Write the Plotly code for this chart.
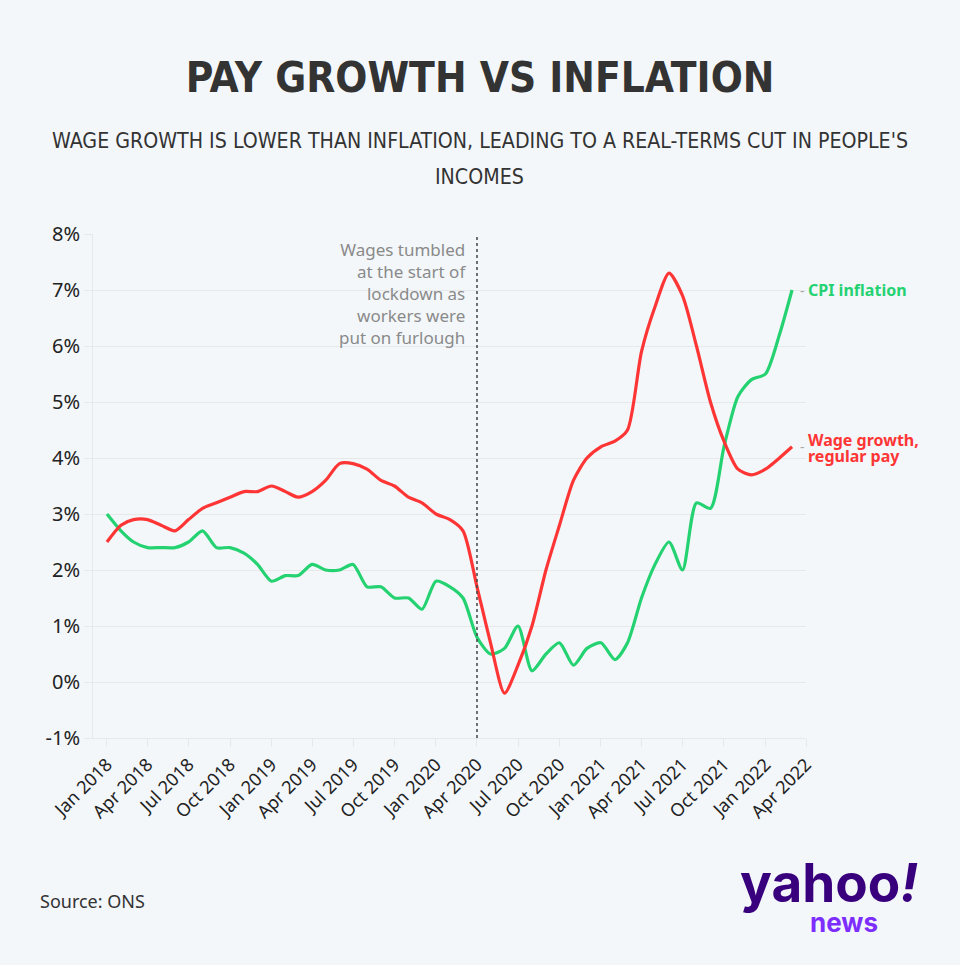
import plotly.graph_objects as go
import pandas as pd

months = pd.date_range("2018-01-01", "2022-03-01", freq="MS")

wage_growth = [2.5, 2.8, 2.9, 2.9, 2.8, 2.7, 2.9, 3.1, 3.2, 3.3, 3.4, 3.4,
               3.5, 3.4, 3.3, 3.4, 3.6, 3.9, 3.9, 3.8, 3.6, 3.5, 3.3, 3.2,
               3.0, 2.9, 2.7, 1.7, 0.7, -0.2, 0.3, 1.0, 2.0, 2.8, 3.6, 4.0,
               4.2, 4.3, 4.5, 5.9, 6.7, 7.3, 6.9, 6.0, 5.0, 4.3, 3.8, 3.7,
               3.8, 4.0, 4.2]

cpi = [3.0, 2.7, 2.5, 2.4, 2.4, 2.4, 2.5, 2.7, 2.4, 2.4, 2.3, 2.1,
       1.8, 1.9, 1.9, 2.1, 2.0, 2.0, 2.1, 1.7, 1.7, 1.5, 1.5, 1.3,
       1.8, 1.7, 1.5, 0.8, 0.5, 0.6, 1.0, 0.2, 0.5, 0.7, 0.3, 0.6,
       0.7, 0.4, 0.7, 1.5, 2.1, 2.5, 2.0, 3.2, 3.1, 4.2, 5.1, 5.4,
       5.5, 6.2, 7.0]

y_ticks = [-1, 0, 1, 2, 3, 4, 5, 6, 7, 8]
y_tick_labels = ["-1%", "0%", "1%", "2%", "3%", "4%", "5%", "6%", "7%", "8%"]

lockdown_date = "2020-04-01"

RED = "#fe3535"
GREEN = "#25d271"
BG = "#f3f7fa"
GRID = "#e6e8ea"
COND = "DejaVu Sans Condensed, DejaVu Sans"

fig = go.Figure()
fig.add_trace(go.Scatter(x=months, y=cpi, mode="lines",
                         line=dict(color=GREEN, width=3.2, shape="spline", smoothing=0.7),
                         hoverinfo="skip"))
fig.add_trace(go.Scatter(x=months, y=wage_growth, mode="lines",
                         line=dict(color=RED, width=3.2, shape="spline", smoothing=0.7),
                         hoverinfo="skip"))

fig.add_shape(type="line", xref="x", yref="paper", x0=lockdown_date, x1=lockdown_date,
              y0=0, y1=1, line=dict(color="#444444", width=1.5, dash="dot"))

L, R, T, B = 93, 154, 234, 227
PW, PH = 960 - L - R, 965 - T - B

def px(x):
    return (x - L) / PW

def py(y):
    return (965 - B - y) / PH

annotations = [
    dict(x=lockdown_date, y=8, xref="x", yref="y", xanchor="right", yanchor="top",
         xshift=-9, yshift=-2, align="right", showarrow=False,
         text="Wages tumbled<br>at the start of<br>lockdown as<br>workers were<br>put on furlough",
         font=dict(family="Noto Sans", size=17, color="#8a8a8a")),
    dict(x=months[-1], y=cpi[-1], xref="x", yref="y", xanchor="left", yanchor="middle",
         xshift=6, showarrow=False, text="-",
         font=dict(family="Noto Sans", size=14, color="#aaaaaa")),
    dict(x=months[-1], y=cpi[-1], xref="x", yref="y", xanchor="left", yanchor="middle",
         xshift=14, showarrow=False, text="<b>CPI inflation</b>",
         font=dict(family="Noto Sans", size=16, color=GREEN)),
    dict(x=months[-1], y=wage_growth[-1], xref="x", yref="y", xanchor="left", yanchor="middle",
         xshift=6, showarrow=False, text="-",
         font=dict(family="Noto Sans", size=14, color="#aaaaaa")),
    dict(x=months[-1], y=wage_growth[-1], xref="x", yref="y", xanchor="left", yanchor="middle",
         xshift=14, yshift=7, showarrow=False, align="left",
         text="<b>Wage growth,</b>",
         font=dict(family="Noto Sans", size=16, color=RED)),
    dict(x=months[-1], y=wage_growth[-1], xref="x", yref="y", xanchor="left", yanchor="middle",
         xshift=14, yshift=-9, showarrow=False, align="left",
         text="<b>regular pay</b>",
         font=dict(family="Noto Sans", size=16, color=RED)),
    dict(x=px(480), y=py(140), xref="paper", yref="paper", xanchor="center", yanchor="middle",
         showarrow=False,
         text="WAGE GROWTH IS LOWER THAN INFLATION, LEADING TO A REAL-TERMS CUT IN PEOPLE'S",
         font=dict(family=COND, size=21.2, color="#333333")),
    dict(x=px(480), y=py(177), xref="paper", yref="paper", xanchor="center", yanchor="middle",
         showarrow=False, text="INCOMES",
         font=dict(family=COND, size=21.2, color="#333333")),
    dict(x=px(38), y=py(901), xref="paper", yref="paper", xanchor="left", yanchor="middle",
         showarrow=False, text="Source: ONS",
         font=dict(family="Noto Sans", size=18, color="#333333")),
    dict(x=px(829), y=py(883), xref="paper", yref="paper", xanchor="center", yanchor="middle",
         showarrow=False, text="<b>yahoo<i>!</i></b>",
         font=dict(family="Inter", size=53, color="#39007d", weight=900)),
    dict(x=px(844), y=py(922), xref="paper", yref="paper", xanchor="center", yanchor="middle",
         showarrow=False, text="<b>news</b>",
         font=dict(family="Inter", size=26, color="#7d2eff", weight=900)),
]

fig.update_layout(
    width=960, height=965,
    paper_bgcolor=BG, plot_bgcolor=BG,
    margin=dict(l=L, r=R, t=T, b=B),
    showlegend=False,
    title=dict(text="<b>PAY GROWTH VS INFLATION</b>", x=0.5, xanchor="center",
               y=1 - 77 / 965, yanchor="middle", xref="container", yref="container",
               font=dict(family=COND, size=42, color="#333333")),
    annotations=annotations,
    xaxis=dict(type="date", range=["2017-12-01", "2022-04-01"],
               tick0="2018-01-01", dtick="M3", tickformat="%b %Y", tickangle=-45,
               showgrid=False, zeroline=False, ticks="outside", ticklen=8,
               tickcolor=GRID, showline=True, linecolor=GRID, linewidth=1,
               tickfont=dict(family="Noto Sans", size=18, color="#222222")),
    yaxis=dict(range=[-1, 8], tickvals=y_ticks, ticktext=y_tick_labels,
               showgrid=True, gridcolor=GRID, gridwidth=1, zeroline=False,
               ticks="outside", ticklen=8, tickcolor=GRID,
               showline=True, linecolor=GRID,
               tickfont=dict(family="Noto Sans", size=20, color="#222222")),
)

fig.write_html(
    "out.html",
    config={"displayModeBar": False},
    post_script="document.body.style.margin='0';document.body.style.background='#f3f7fa';",
)
